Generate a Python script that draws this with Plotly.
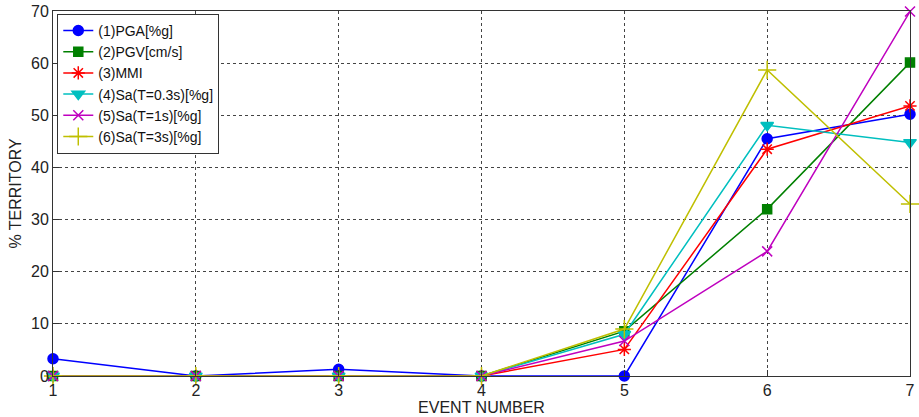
import plotly.graph_objects as go

events = [1, 2, 3, 4, 5, 6, 7]
pga = [3.3, 0, 1.3, 0, 0, 45.5, 50.2]
pgv = [0, 0, 0, 0, 8.6, 32.0, 60.1]
mmi = [0, 0, 0, 0, 5.1, 43.5, 51.8]
sa03 = [0, 0, 0, 0, 8.0, 48.1, 44.8]
sa1 = [0, 0, 0, 0, 6.7, 23.9, 69.9]
sa3 = [0, 0, 0, 0, 9.0, 58.7, 33.0]

names = ["(1)PGA[%g]", "(2)PGV[cm/s]", "(3)MMI", "(4)Sa(T=0.3s)[%g]",
         "(5)Sa(T=1s)[%g]", "(6)Sa(T=3s)[%g]"]
series = [pga, pgv, mmi, sa03, sa1, sa3]
colors = ["#0000FF", "#008000", "#FF0000", "#00BFBF", "#BF00BF", "#BFBF00"]
symbols = ["circle", "square", "asterisk-open", "triangle-down", "x-thin-open", "cross-thin-open"]
sizes = [10, 9, 11, 11, 10, 13]

fig = go.Figure()
for n, s, c, sym, sz in zip(names, series, colors, symbols, sizes):
    fig.add_trace(go.Scatter(
        x=events, y=s, name=n, mode="lines+markers",
        line=dict(color=c, width=1.5),
        marker=dict(symbol=sym, size=sz, color=c, line=dict(color=c, width=1.5)),
        cliponaxis=False,
    ))

FONT = "Liberation Sans, Arial"
axis_common = dict(
    showline=True, linecolor="#333333", linewidth=1, mirror=True,
    showgrid=True, gridcolor="#444444", griddash="dot", gridwidth=1,
    ticks="inside", ticklen=6, tickcolor="#333333",
    zeroline=False, automargin=False,
    tickfont=dict(family=FONT, size=16, color="#222222"),
)

fig.update_xaxes(range=[1, 7], tickvals=events, **axis_common,
                 title=dict(text="EVENT NUMBER", standoff=1,
                            font=dict(family=FONT, size=16, color="#222222")))
fig.update_yaxes(range=[0, 70], dtick=10, **axis_common,
                 title=dict(text="% TERRITORY", standoff=5,
                            font=dict(family=FONT, size=16, color="#222222")))

fig.update_layout(
    width=919, height=417,
    margin=dict(l=53, r=9, t=11, b=41, pad=0, autoexpand=False),
    paper_bgcolor="white", plot_bgcolor="white",
    showlegend=True,
    legend=dict(x=0.005, y=0.992, xanchor="left", yanchor="top",
                bgcolor="white", bordercolor="#333333", borderwidth=1,
                font=dict(family=FONT, size=14, color="#111111"),
                tracegroupgap=0, itemwidth=30),
)

fig.write_html("out.html", config={"displayModeBar": False},
               post_script="document.body.style.margin='0';document.body.style.overflow='hidden';")
